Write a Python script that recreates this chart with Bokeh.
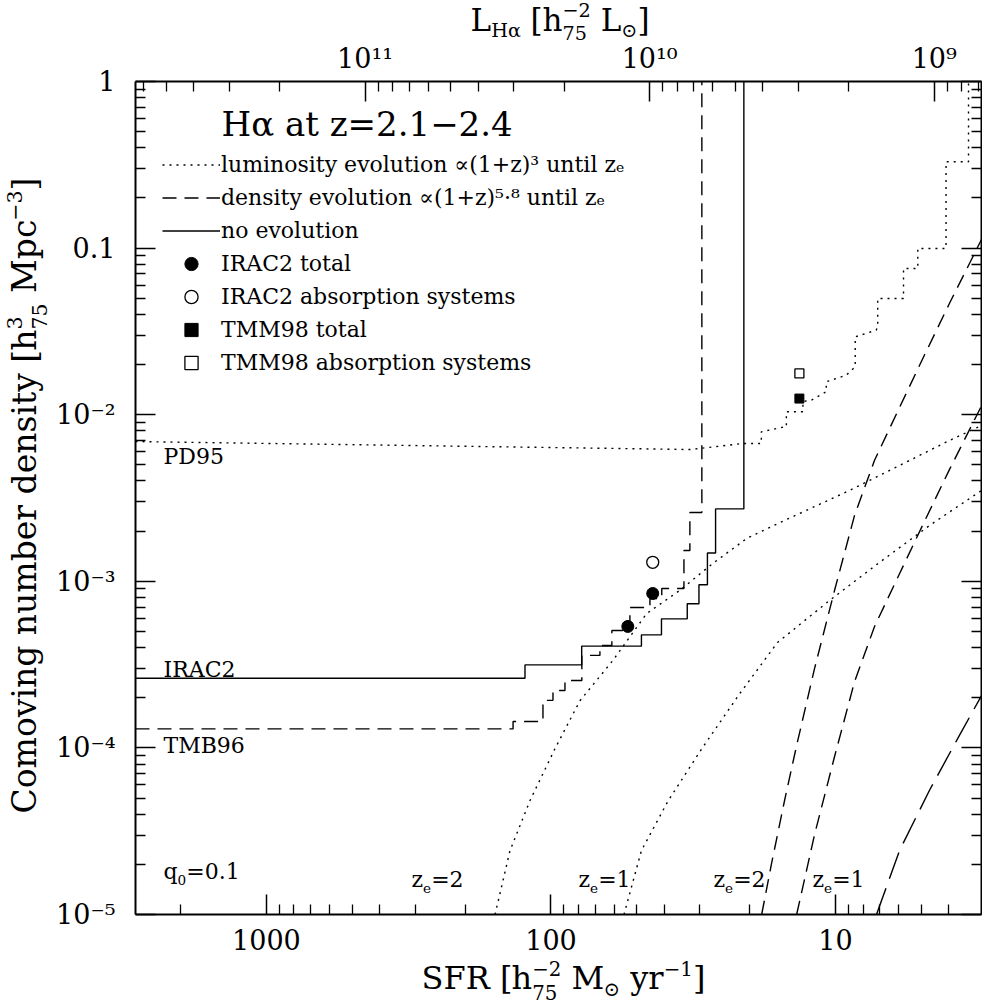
import math
from bokeh.plotting import figure
from bokeh.models import Range1d, LogScale, LogAxis, FixedTicker, Label, Legend, LegendItem
from bokeh.embed import file_html
from bokeh.resources import INLINE

FONT = "DejaVu Serif"

# ---------------- data ----------------
SFR_BOX = (2884.0, 3.07)            # SFR [h^-2 Msun/yr] at left / right edge of the box
L_BOX_LEFT = 6.41e11                # L_Halpha at left edge of the box
N_BOX = (1e-5, 1.0)                 # comoving number density, bottom / top of the box

x_major = [1000, 100, 10]
x_major_labels = ["1000", "100", "10"]
y_major = [1.0, 0.1, 0.01, 0.001, 0.0001, 0.00001]
y_major_labels = ["1", "0.1", "10\u207b\u00b2", "10\u207b\u00b3", "10\u207b\u2074", "10\u207b\u2075"]
top_major = [1e11, 1e10, 1e9]
top_major_labels = ["10\u00b9\u00b9", "10\u00b9\u2070", "10\u2079"]

# no evolution (solid staircase): SFR thresholds and cumulative densities
noevo_edges = [123.4, 78.0, 48.1, 40.9, 33.2, 30.2, 28.2, 26.4, 21.0]
noevo_n = [2.62e-4, 3.15e-4, 4.08e-4, 4.77e-4, 5.95e-4, 7.33e-4, 9.53e-4, 1.48e-3, 2.72e-3]

# density evolution (dashed staircase)
dens_edges = [135.9, 106.7, 98.4, 89.3, 77.9, 67.3, 61.1, 52.8, 44.9, 40.8, 34.1, 32.5, 29.5]
dens_n = [1.30e-4, 1.44e-4, 1.93e-4, 2.21e-4, 2.54e-4, 3.59e-4, 4.12e-4, 5.07e-4,
          6.96e-4, 7.88e-4, 9.05e-4, 1.53e-3, 2.59e-3]

# PD95 (dotted cumulative curve)
pd_sfr = [2884.0, 32.5, 26.2, 21.15, 18.23, 18.23, 15.10, 14.89, 14.89, 13.02, 13.02, 12.17,
          10.78, 10.78, 9.17, 8.53, 8.53, 7.20, 7.11, 7.11, 5.77, 5.77, 5.14, 5.14, 4.09, 4.09,
          3.41, 3.41]
pd_n = [6.9e-3, 6.18e-3, 6.44e-3, 6.72e-3, 6.72e-3, 7.89e-3, 8.46e-3, 8.46e-3, 1.041e-2,
        1.041e-2, 1.20e-2, 1.222e-2, 1.373e-2, 1.576e-2, 1.726e-2, 1.939e-2, 2.935e-2, 3.215e-2,
        3.37e-2, 4.98e-2, 4.98e-2, 7.54e-2, 7.54e-2, 9.95e-2, 9.95e-2, 0.330, 0.330, 1.0]

# luminosity evolution smooth curves (dotted)
lum2_sfr = [157.2, 139.3, 118.5, 96.8, 79.1, 60.6, 46.1, 35.3, 27.0, 20.5, 15.7, 8.93, 5.96, 3.98, 3.07]
lum2_n = [1.0e-5, 2.42e-5, 4.83e-5, 9.9e-5, 1.92e-4, 3.35e-4, 6.41e-4, 8.81e-4, 1.28e-3,
          1.81e-3, 2.25e-3, 3.51e-3, 4.96e-3, 7.0e-3, 8.61e-3]
lum1_sfr = [55.4, 48.1, 38.7, 29.5, 21.7, 16.0, 10.5, 7.01, 4.68, 3.07]
lum1_n = [1.0e-5, 2.42e-5, 4.83e-5, 9.9e-5, 2.12e-4, 4.29e-4, 7.67e-4, 1.297e-3, 2.16e-3, 3.51e-3]

# density evolution smooth curves (dashed)
den2_sfr = [18.18, 16.77, 15.10, 13.70, 11.85, 10.08, 8.58, 7.30, 5.96, 4.87, 3.98, 3.07]
den2_n = [1.0e-5, 2.04e-5, 4.85e-5, 1.035e-4, 3.00e-4, 8.83e-4, 2.48e-3, 5.31e-3, 1.105e-2,
          2.28e-2, 4.65e-2, 0.1126]
den1_sfr = [13.70, 11.85, 10.08, 8.58, 7.30, 5.96, 4.87, 3.98, 3.07]
den1_n = [1.0e-5, 3.02e-5, 8.88e-5, 2.49e-4, 5.34e-4, 1.11e-3, 2.29e-3, 4.68e-3, 1.13e-2]
den0_sfr = [7.18, 5.96, 4.68, 3.67, 3.07]
den0_n = [1.0e-5, 2.42e-5, 5.55e-5, 1.19e-4, 2.06e-4]

# observed points
irac_tot_sfr = [53.7, 43.9]
irac_tot_n = [5.36e-4, 8.45e-4]
irac_abs_sfr = [43.9]
irac_abs_n = [1.30e-3]
tmm_tot_sfr = [13.4]
tmm_tot_n = [1.25e-2]
tmm_abs_sfr = [13.4]
tmm_abs_n = [1.77e-2]

# ---------------- layout (page pixels) ----------------
W_PX, H_PX = 982, 1006
BOX_L, BOX_R, BOX_T, BOX_B = 135, 981, 81, 914


def extend_log(v_a, v_b, px_a, px_b, total):
    """Given values at two pixel positions, return values at pixel 0 and pixel total."""
    a, b = math.log10(v_a), math.log10(v_b)
    per_px = (b - a) / (px_b - px_a)
    return 10 ** (a - px_a * per_px), 10 ** (b + (total - px_b) * per_px)


x_start, x_end = extend_log(SFR_BOX[0], SFR_BOX[1], BOX_L, BOX_R, W_PX)
L_BOX_RIGHT = L_BOX_LEFT * SFR_BOX[1] / SFR_BOX[0]
l_start, l_end = extend_log(L_BOX_LEFT, L_BOX_RIGHT, BOX_L, BOX_R, W_PX)
y_start, y_end = extend_log(N_BOX[0], N_BOX[1], H_PX - BOX_B, H_PX - BOX_T, H_PX)


def minor_list(lo, hi, kmin, kmax):
    out = []
    for k in range(kmin, kmax + 1):
        for m in range(2, 10):
            v = m * 10.0 ** k
            if lo < v < hi:
                out.append(v)
    return out


def staircase(x_left, edges, levels, top):
    xs, ys = [x_left], [levels[0]]
    for i, e in enumerate(edges):
        nxt = levels[i + 1] if i + 1 < len(levels) else top
        xs += [e, e]
        ys += [levels[i], nxt]
    return xs, ys


W = {" ": .318, "[": .39, "]": .39, "(": .39, ")": .39, "+": .838, "=": .838, "\u2212": .838,
     ".": .318, "\u2299": .84, "\u03b1": .66, "\u221d": .838,
     "a": .596, "b": .640, "c": .560, "d": .640, "e": .592, "g": .640, "h": .644, "i": .320,
     "l": .320, "m": .948, "n": .644, "o": .602, "p": .640, "q": .640, "r": .478, "s": .513,
     "t": .402, "u": .644, "v": .565, "y": .565, "z": .527,
     "C": .734, "F": .686, "H": .872, "L": .666, "M": .994, "R": .765, "S": .656}


def tw(s, size):
    return sum(W.get(c, .636) for c in s) * size


def sx(px):
    return px


def sy(py):
    return H_PX - py


BASE_FIX = 0.35   # raise so that the alphabetic baseline lands where asked


def rich(p, x, y, pieces, size, angle=0.0):
    d = (math.cos(angle), math.sin(angle))
    nrm = (-math.sin(angle), math.cos(angle))
    small = size * 0.62
    a = 0.0

    def put(text, adv, shift, sz):
        lead = len(text) - len(text.lstrip(" "))
        adv += lead * W[" "] * sz
        shift += BASE_FIX * sz
        p.add_layout(Label(x=x + adv * d[0] + shift * nrm[0], y=y + adv * d[1] + shift * nrm[1],
                           x_units="screen", y_units="screen", angle=angle, text=text.strip(" "),
                           text_font=FONT, text_font_size=f"{sz:.1f}px", text_color="black",
                           text_align="left", text_baseline="alphabetic"))

    for pc in pieces:
        kind = pc[0]
        if kind == "n":
            put(pc[1], a, 0, size)
            a += tw(pc[1], size)
        elif kind == "sup":
            put(pc[1], a, 0.45 * size, small)
            a += tw(pc[1], small)
        elif kind == "sub":
            put(pc[1], a, -0.22 * size, small)
            a += tw(pc[1], small)
        elif kind == "ss":
            put(pc[1], a, 0.45 * size, small)
            put(pc[2], a, -0.30 * size, small)
            a += max(tw(pc[1], small), tw(pc[2], small))


# ---------------- figure ----------------
p = figure(width=W_PX, height=H_PX, x_axis_type="log", y_axis_type="log",
           x_axis_location=None, y_axis_location=None,
           x_range=Range1d(x_start, x_end), y_range=Range1d(y_start, y_end),
           output_backend="svg", toolbar_location=None, min_border=0)
p.title.visible = False
p.grid.visible = False
p.outline_line_color = None
p.background_fill_color = "white"
p.border_fill_color = "white"
p.extra_x_ranges = {"L": Range1d(l_start, l_end)}
p.extra_x_scales = {"L": LogScale()}


def style(ax, labels=True):
    ax.major_tick_in = 20
    ax.major_tick_out = 0
    ax.minor_tick_in = 10
    ax.minor_tick_out = 0
    ax.major_tick_line_width = 1.5
    ax.minor_tick_line_width = 1.3
    ax.axis_line_width = 2
    ax.axis_line_color = "black"
    ax.major_tick_line_color = "black"
    ax.minor_tick_line_color = "black"
    ax.major_label_text_font = FONT
    ax.major_label_text_font_size = "27px" if labels else "0px"
    ax.major_label_text_color = "black"


bottom = LogAxis(fixed_location=N_BOX[0], bounds=(SFR_BOX[1], SFR_BOX[0]),
                 ticker=FixedTicker(ticks=x_major, minor_ticks=minor_list(SFR_BOX[1], SFR_BOX[0], 0, 3)),
                 major_label_overrides={float(v): s for v, s in zip(x_major, x_major_labels)})
style(bottom)
bottom.major_label_standoff = 14
p.add_layout(bottom, "below")

top = LogAxis(x_range_name="L", fixed_location=N_BOX[1], bounds=(L_BOX_RIGHT, L_BOX_LEFT),
              ticker=FixedTicker(ticks=top_major, minor_ticks=minor_list(L_BOX_RIGHT, L_BOX_LEFT, 8, 11)),
              major_label_overrides={float(v): s for v, s in zip(top_major, top_major_labels)})
style(top)
top.major_label_standoff = 8
p.add_layout(top, "above")

left = LogAxis(fixed_location=SFR_BOX[0], bounds=N_BOX,
               ticker=FixedTicker(ticks=y_major, minor_ticks=minor_list(N_BOX[0], N_BOX[1], -5, -1)),
               major_label_overrides={float(v): s for v, s in zip(y_major, y_major_labels)})
style(left)
left.major_label_standoff = 20
p.add_layout(left, "left")

right = LogAxis(fixed_location=SFR_BOX[1], bounds=N_BOX,
                ticker=FixedTicker(ticks=y_major, minor_ticks=minor_list(N_BOX[0], N_BOX[1], -5, -1)),
                major_label_overrides={float(v): "" for v in y_major})
style(right, labels=False)
p.add_layout(right, "right")

LW = 1.4
DOT = "2 5"
DASH = "14 8"
r_dot = p.line(pd_sfr, pd_n, line_color="black", line_width=LW, line_dash=DOT)
xs, ys = staircase(SFR_BOX[0], dens_edges, dens_n, N_BOX[1])
r_dash = p.line(xs, ys, line_color="black", line_width=LW, line_dash=DASH)
xs, ys = staircase(SFR_BOX[0], noevo_edges, noevo_n, N_BOX[1])
r_solid = p.line(xs, ys, line_color="black", line_width=LW)

p.line(lum2_sfr, lum2_n, line_color="black", line_width=LW, line_dash=DOT)
p.line(lum1_sfr, lum1_n, line_color="black", line_width=LW, line_dash=DOT)
p.line(den2_sfr, den2_n, line_color="black", line_width=LW, line_dash=DASH)
p.line(den1_sfr, den1_n, line_color="black", line_width=LW, line_dash=DASH)
p.line(den0_sfr, den0_n, line_color="black", line_width=LW, line_dash="28 10")

r_c1 = p.scatter(irac_tot_sfr, irac_tot_n, marker="circle", size=12, fill_color="black", line_color="black")
r_c2 = p.scatter(irac_abs_sfr, irac_abs_n, marker="circle", size=12, fill_color="white", line_color="black", line_width=1.3)
r_s1 = p.scatter(tmm_tot_sfr, tmm_tot_n, marker="square", size=9, fill_color="black", line_color="black")
r_s2 = p.scatter(tmm_abs_sfr, tmm_abs_n, marker="square", size=9, fill_color="white", line_color="black", line_width=1.3)

legend = Legend(items=[
    LegendItem(label="luminosity evolution \u221d(1+z)\u00b3 until z\u2091", renderers=[r_dot]),
    LegendItem(label="density evolution \u221d(1+z)\u2075\u00b7\u2078 until z\u2091", renderers=[r_dash]),
    LegendItem(label="no evolution", renderers=[r_solid]),
    LegendItem(label="IRAC2 total", renderers=[r_c1]),
    LegendItem(label="IRAC2 absorption systems", renderers=[r_c2]),
    LegendItem(label="TMM98 total", renderers=[r_s1]),
    LegendItem(label="TMM98 absorption systems", renderers=[r_s2]),
], location=(sx(162), sy(147.5 + 7 * 33)), glyph_width=58, glyph_height=33, label_height=33,
    spacing=0, padding=0, margin=0, label_standoff=1, border_line_color=None,
    background_fill_alpha=0, label_text_font=FONT, label_text_font_size="22px",
    label_text_color="black")
p.add_layout(legend)

# texts
rich(p, sx(221), sy(135), [("n", "H\u03b1 at z=2.1\u22122.4")], 34)
rich(p, sx(163), sy(464), [("n", "PD95")], 22)
rich(p, sx(163), sy(677), [("n", "IRAC2")], 22)
rich(p, sx(163), sy(753), [("n", "TMB96")], 22)
rich(p, sx(163), sy(879), [("n", "q"), ("sub", "0"), ("n", "=0.1")], 22)
for px, lab in [(411, "2"), (578, "1"), (713, "2"), (812, "1")]:
    rich(p, sx(px), sy(887), [("n", "z"), ("sub", "e"), ("n", "=" + lab)], 22)

# axis titles
rich(p, sx(421), sy(989), [("n", "SFR ["), ("n", "h"), ("ss", "\u22122", "75"), ("n", " M"),
                           ("sub", "\u2299"), ("n", " yr"), ("sup", "\u22121"), ("n", "]")], 32)
rich(p, sx(470), sy(30), [("n", "L"), ("sub", "H\u03b1"), ("n", " ["), ("n", "h"),
                          ("ss", "\u22122", "75"), ("n", " L"), ("sub", "\u2299"), ("n", "]")], 31)
rich(p, sx(36), sy(813), [("n", "Comoving number density ["), ("n", "h"), ("ss", "3", "75"),
                          ("n", " Mpc"), ("sup", "\u22123"), ("n", "]")], 33, angle=math.pi / 2)

open("out.html", "w").write(file_html(p, INLINE))
